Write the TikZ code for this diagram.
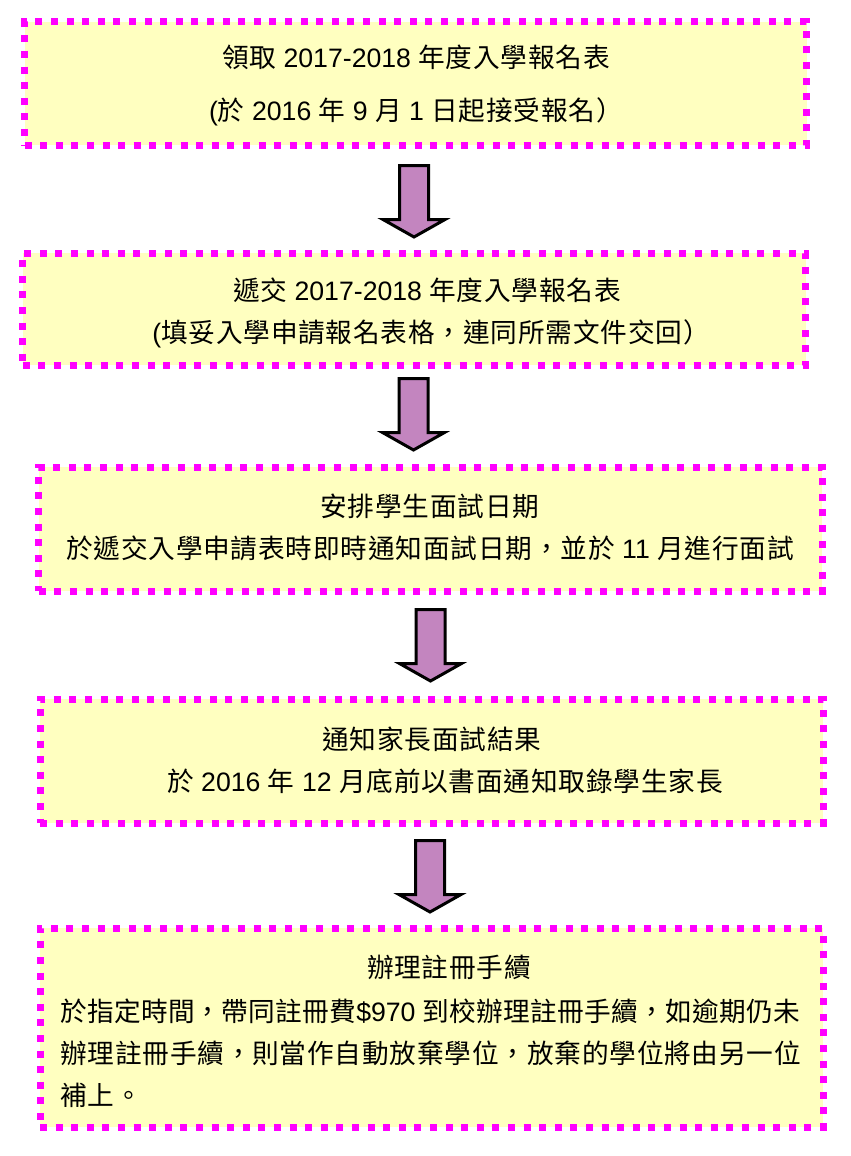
\documentclass[tikz,border=0pt]{standalone}
\usepackage{fontspec}
\setmainfont{Liberation Sans}
\newfontfamily\cjkfont[LetterSpace=3]{Noto Sans CJK TC}
\newfontfamily\cjkfontnarrow[LetterSpace=1]{Noto Sans CJK TC}
\newcommand\cj[1]{{\cjkfont #1}}
\newcommand\cjn[1]{{\cjkfontnarrow #1}}
\usetikzlibrary{fit}
\definecolor{boxline}{RGB}{255,0,255}
\definecolor{boxfill}{RGB}{255,255,192}
\definecolor{arrfill}{RGB}{195,133,191}
\tikzset{
  blockarr/.pic={
    \draw[blockarrow] (-14.5,1.5) -- (14.5,1.5) -- (14.5,55.5) -- (31,55.5)
      -- (0,73) -- (-31,55.5) -- (-14.5,55.5) -- cycle;
  }
}
\begin{document}
\begin{tikzpicture}[x=0.75pt,y=-0.75pt,
  box/.style={draw=boxline, fill=boxfill, line width=5.25pt,
    dash pattern=on 5.25pt off 6.45pt, inner sep=0pt, outer sep=0pt, rectangle},
  txt/.style={anchor=base, inner sep=0pt, font=\fontsize{20pt}{24pt}\selectfont},
  blockarrow/.style={draw=black, fill=arrfill, line width=2.25pt, line join=miter},
]
\useasboundingbox (0,0) rectangle (850,1156);

% boxes
\node[box, fit={(24.5,22) (806.5,145)}] (b1) {};
\node[box, fit={(22.7,253) (805.5,365)}] (b2) {};
\node[box, fit={(38.7,467) (822,591)}] (b3) {};
\node[box, fit={(40,699) (823,823)}] (b4) {};
\node[box, fit={(40,928) (823,1127)}] (b5) {};

% block arrows
\pic at (414,164) {blockarr};
\pic at (413.5,377) {blockarr};
\pic at (430.5,608) {blockarr};
\pic at (430,839) {blockarr};

% texts
\node[txt] (t1a) at (416,68) {\cj{領取} 2017-2018 \cj{年度入學報名表}};
\node[txt] (t1b) at (416,120) {(\cj{於} 2016 \cj{年} 9 \cj{月} 1 \cj{日起接受報名）}};
\node[txt] (t2a) at (427,300) {\cj{遞交} 2017-2018 \cj{年度入學報名表}};
\node[txt] (t2b) at (431,342) {(\cj{填妥入學申請報名表格，連同所需文件交回）}};
\node[txt] (t3a) at (430,516) {\cj{安排學生面試日期}};
\node[txt] (t3b) at (430,558) {\cj{於遞交入學申請表時即時通知面試日期，並於} 11 \cj{月進行面試}};
\node[txt] (t4a) at (432,749) {\cj{通知家長面試結果}};
\node[txt] (t4b) at (445,791) {\cj{於} 2016 \cj{年} 12 \cj{月底前以書面通知取錄學生家長}};
\node[txt] (t5a) at (449,977) {\cj{辦理註冊手續}};
\node[txt, anchor=base west] (t5b) at (60,1021) {\cjn{於指定時間，帶同註冊費}\$970 \cjn{到校辦理註冊手續，如逾期仍未}};
\node[txt, anchor=base west] (t5c) at (60,1063) {\cj{辦理註冊手續，則當作自動放棄學位，放棄的學位將由另一位}};
\node[txt, anchor=base west] (t5d) at (60,1105) {\cj{補上。}};
\end{tikzpicture}
\end{document}
